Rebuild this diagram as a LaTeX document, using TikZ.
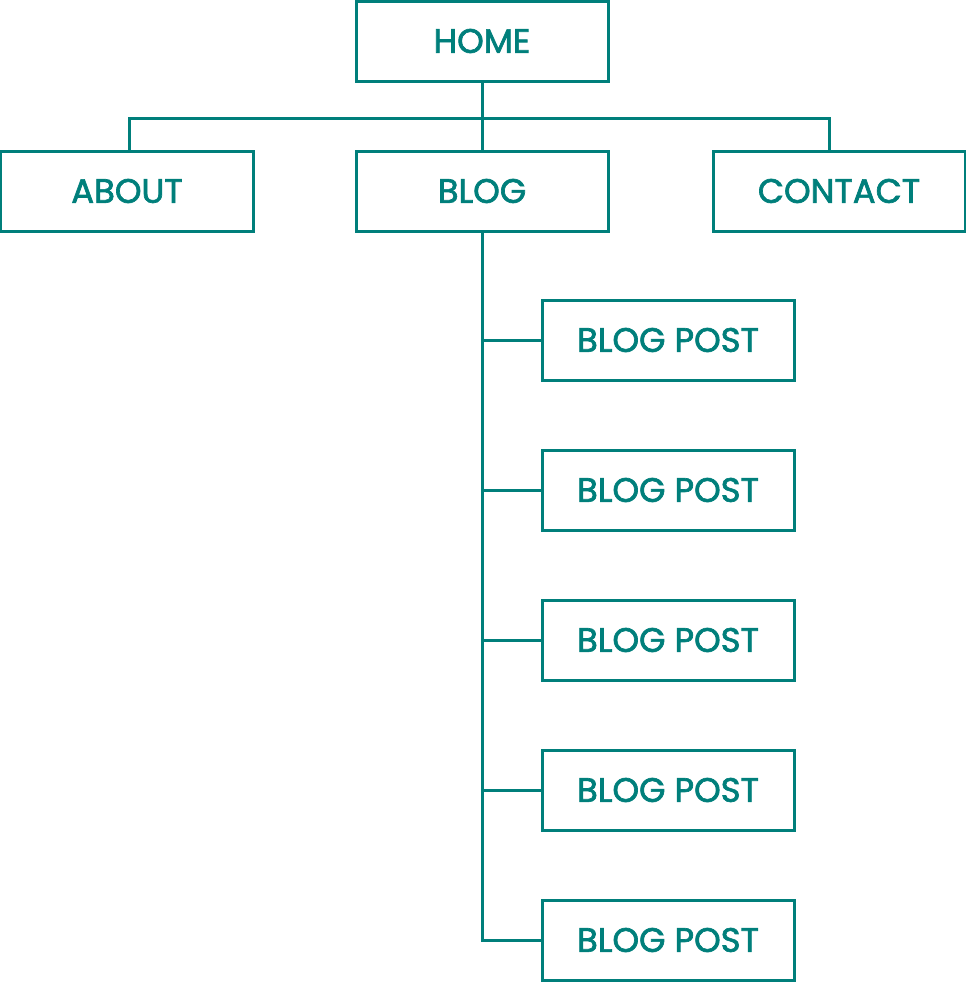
\documentclass[tikz,border=0pt]{standalone}
\usepackage{fontspec}
\setmainfont{Poppins}
\newfontfamily\pagefont{Poppins}[FakeBold=2]
\usepackage{tikz}
\usetikzlibrary{positioning}
\definecolor{mapteal}{HTML}{007F7B}

\begin{document}
\begin{tikzpicture}[x=1bp,y=-1bp,line width=3bp,
       page/.style={draw=mapteal,minimum width=252bp,minimum height=80bp,inner sep=0pt,text=mapteal,font=\pagefont\fontsize{34}{36}\selectfont},
       link/.style={draw=mapteal}]
      \useasboundingbox (0,0) rectangle (966,982);
      \node[page] (home) at (482,41) {HOME};
      \node[page] (about) at (127,191) {ABOUT};
      \node[page] (blog) at (482,191) {BLOG};
      \node[page] (contact) at (839,191) {CONTACT};
      \foreach \i in {1,...,5}
        \node[page] (post\i) at (668,190+150*\i) {BLOG POST};
      \coordinate (bus) at (482,118);
      \draw[link] (home.south) -- (blog.north);
      \draw[link] ([xshift=2bp]about.north) |- (bus) -| ([xshift=-10bp]contact.north);
      \draw[link] (blog.south) |- (post5.west);
      \foreach \i in {1,...,4}
        \draw[link] (post\i.west) -- (blog.south |- post\i.west);
    \end{tikzpicture}
\end{document}
